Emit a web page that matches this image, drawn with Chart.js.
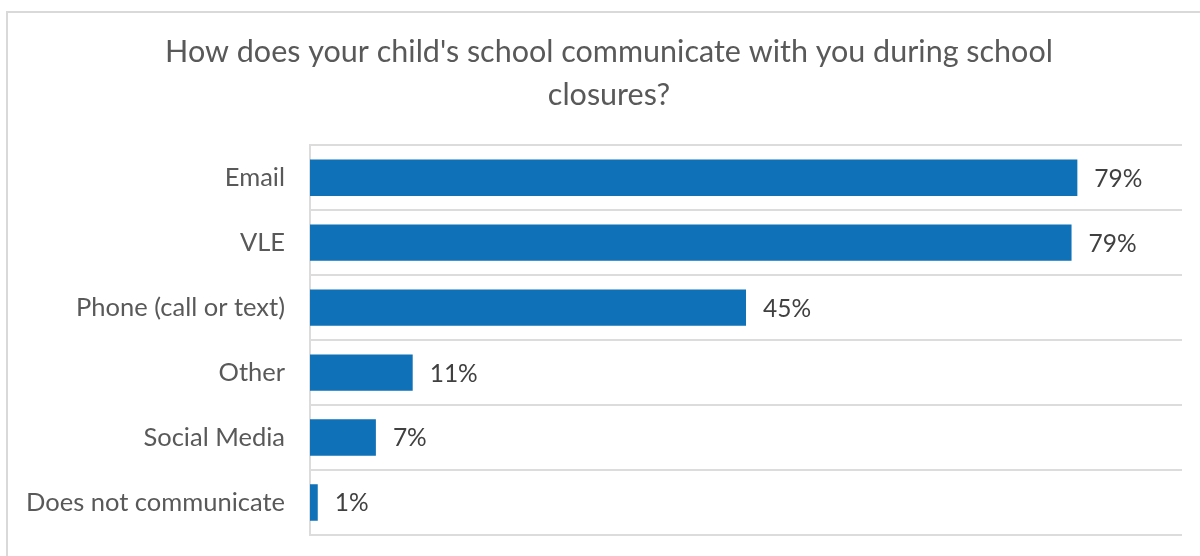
<!DOCTYPE html>
<html>
<head>
<meta charset="utf-8">
<script src="https://cdn.jsdelivr.net/npm/chart.js@4"></script>
<style>
  html, body { margin: 0; padding: 0; background: #fff; overflow: hidden; }
</style>
</head>
<body>
<canvas id="chart" width="1200" height="556"></canvas>
<script>
// ===============================
// Dados
// ===============================
const titleLines = ["How does your child's school communicate with you during school", "closures?"];
const categories = ["Email", "VLE", "Phone (call or text)", "Other", "Social Media", "Does not communicate"];
const shares = [0.792, 0.786, 0.45, 0.106, 0.068, 0.008];

const fontFamily = "Lato, 'Open Sans', sans-serif";

// frame around the whole chart (top and left edges visible)
const framePlugin = {
  id: "frame",
  afterLayout(chart) {
    // nudge the title block so it centres a bit right of the canvas middle
    if (chart.titleBlock) chart.titleBlock.left += 36;
  },
  beforeDraw(chart) {
    const ctx = chart.ctx;
    ctx.save();
    ctx.strokeStyle = "#d9d9d9";
    ctx.lineWidth = 2;
    ctx.strokeRect(7, 12, chart.width + 10, chart.height + 10);
    ctx.restore();
  }
};

// percentage label at the end of each bar
const valueLabels = {
  id: "valueLabels",
  afterDatasetsDraw(chart) {
    const ctx = chart.ctx;
    const meta = chart.getDatasetMeta(0);
    ctx.save();
    ctx.font = "24.5px " + fontFamily;
    ctx.fillStyle = "#404040";
    ctx.textAlign = "left";
    ctx.textBaseline = "middle";
    meta.data.forEach((bar, i) => {
      const txt = Math.round(shares[i] * 100) + "%";
      ctx.fillText(txt, bar.x + 17, bar.y + 1);
    });
    ctx.restore();
  }
};

const ctx = document.getElementById("chart").getContext("2d");

new Chart(ctx, {
  type: "bar",
  data: {
    labels: categories,
    datasets: [{
      data: shares,
      backgroundColor: "#0f71b7",
      borderWidth: 0,
      categoryPercentage: 1,
      barPercentage: 0.56
    }]
  },
  options: {
    indexAxis: "y",
    responsive: false,
    animation: false,
    layout: { padding: { top: 30, right: 18, bottom: 21, left: 0 } },
    plugins: {
      legend: { display: false },
      tooltip: { enabled: false },
      title: {
        display: true,
        text: titleLines,
        color: "#595959",
        font: { family: fontFamily, size: 30.5, weight: "normal", lineHeight: 1.43 },
        padding: { top: 0, bottom: 28 }
      }
    },
    scales: {
      x: {
        min: 0,
        max: 0.9,
        display: false
      },
      y: {
        afterFit: (scale) => {
          scale.width = 310;
          scale.paddingTop = 0;
          scale.paddingBottom = 0;
        },
        grid: {
          offset: true,
          color: "#dcdcdc",
          lineWidth: 2,
          drawTicks: false
        },
        border: { display: true, color: "#dcdcdc", width: 2 },
        ticks: {
          color: "#595959",
          padding: 25,
          font: { family: fontFamily, size: 25.5 }
        }
      }
    }
  },
  plugins: [framePlugin, valueLabels]
});
</script>
</body>
</html>
